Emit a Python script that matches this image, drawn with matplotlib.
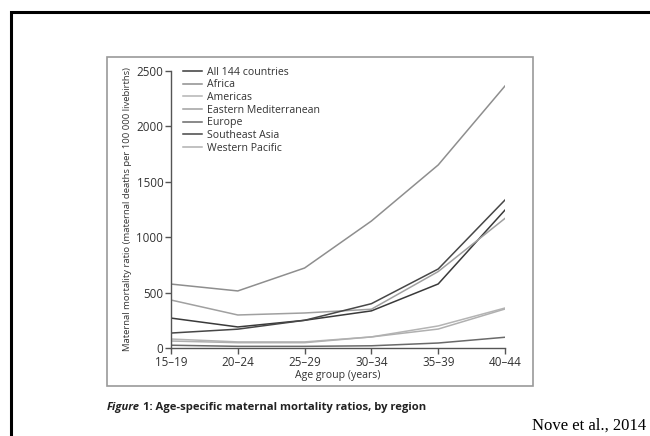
import matplotlib
matplotlib.use("Agg")
import matplotlib.pyplot as plt
from matplotlib.patches import Rectangle

age_groups = ["15–19", "20–24", "25–29", "30–34", "35–39", "40–44"]
regions = ["All 144 countries", "Africa", "Americas", "Eastern Mediterranean",
           "Europe", "Southeast Asia", "Western Pacific"]
all_countries = [270, 190, 250, 335, 578, 1245]
africa = [577, 515, 722, 1146, 1652, 2365]
americas = [81, 55, 55, 100, 199, 361]
eastern_med = [433, 298, 316, 350, 690, 1170]
europe = [25, 15, 15, 20, 45, 97]
southeast_asia = [135, 170, 250, 400, 713, 1336]
western_pacific = [63, 48, 48, 100, 171, 352]
series = [all_countries, africa, americas, eastern_med, europe, southeast_asia, western_pacific]
colors = ["#3a3a3a", "#8e8e8e", "#b4b4b4", "#a0a0a0", "#6a6a6a", "#474747", "#b0b0b0"]

W, H = 650, 436
plt.rcParams['font.family'] = ['Open Sans', 'DejaVu Sans']
fig = plt.figure(figsize=(6.5, 4.36), dpi=100)

def fx(px):
    return px / W

def fy(py):
    return 1 - py / H

# outer black frame (slide border)
fig.add_artist(Rectangle((fx(11), fy(500)), 2.0, fy(12) - fy(500), transform=fig.transFigure,
                         fill=False, edgecolor="black", linewidth=2.2, clip_on=False))
# gray figure box
fig.add_artist(Rectangle((fx(107), fy(386)), fx(533) - fx(107), fy(57) - fy(386),
                         transform=fig.transFigure, fill=False, edgecolor="#9a9a9a", linewidth=1.2))

ax = fig.add_axes([fx(171), fy(348), fx(505) - fx(171), fy(71) - fy(348)])
x = list(range(len(age_groups)))
for name, vals, c in zip(regions, series, colors):
    ax.plot(x, vals, color=c, linewidth=1.1, label=name)

ax.set_xlim(0, 5)
ax.set_ylim(0, 2500)
ax.set_xticks(x)
ax.set_xticklabels(age_groups)
ax.set_yticks([0, 500, 1000, 1500, 2000, 2500])
for s in ["top", "right"]:
    ax.spines[s].set_visible(False)
for s in ["left", "bottom"]:
    ax.spines[s].set_color("#555555")
    ax.spines[s].set_linewidth(1.0)
ax.tick_params(direction="out", length=4, width=1.0, color="#555555", labelsize=8.4,
               labelcolor="#333333", pad=1.5)
ax.set_xlabel("Age group (years)", fontsize=7.6, color="#333333", labelpad=1)
ax.set_ylabel("Maternal mortality ratio (maternal deaths per 100 000 livebirths)", fontsize=6.8,
              color="#333333", labelpad=3)

leg = ax.legend(loc="upper left", bbox_to_anchor=(0.036, 1.016), frameon=False, fontsize=7.6,
                handlelength=1.8, handletextpad=0.45, labelspacing=0.16, borderaxespad=0,
                borderpad=0)
for t in leg.get_texts():
    t.set_color("#333333")

t1 = fig.text(fx(107), fy(407), "Figure", fontsize=8.1, style="italic", fontweight="bold",
              va="center", ha="left", color="#222222")
renderer = fig.canvas.get_renderer()
bb = t1.get_window_extent(renderer)
fig.text(bb.x1 / W + fx(3), fy(407), "1: Age-specific maternal mortality ratios, by region", fontsize=8.1,
         fontweight="bold", va="center", ha="left", color="#222222")
fig.text(fx(532), fy(430), "Nove et al., 2014", fontsize=12, family="Liberation Serif",
         va="baseline", ha="left", color="black")

fig.savefig("out.png", dpi=100)
